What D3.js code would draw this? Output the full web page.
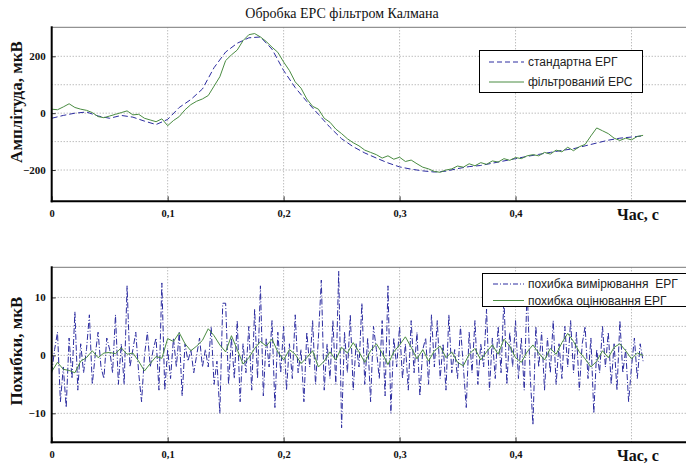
<!DOCTYPE html>
<html><head><meta charset="utf-8">
<script src="https://cdn.jsdelivr.net/npm/d3@7"></script>
<style>
html,body{margin:0;padding:0;background:#fff;}
svg{display:block;}
.leg{white-space:pre;}
</style></head>
<body>
<svg id="chart" width="686" height="464"></svg>
<script>
// ---------- DATA ----------
const title = "Обробка ЕРС фільтром Калмана";
const xTicks = [0, 0.1, 0.2, 0.3, 0.4];
const xTickLabels = ["0", "0,1", "0,2", "0,3", "0,4"];
const topYTicks = [-200, 0, 200];
const topYGrid = [-200, -100, 0, 100, 200];
const botYTicks = [-10, 0, 10];
const botYGrid = [-10, -5, 0, 5, 10];
const seriesTopNames = ["стандартна ЕРГ", "фільтрований ЕРС"];
const seriesBotNames = ["похибка вимірювання  ЕРГ", "похибка оцінювання ЕРГ"];

// standard ERG, sampled every 0.01 s
const stdStep = 0.01;
const standardERG = [-18,-8,0,4,-10,-18,-8,-14,-28,-40,-22,20,48,85,160,215,246,265,268,225,
  150,90,41,-4,-50,-90,-118,-140,-158,-175,-189,-197,-203,-207,-204,-195,-188,-184,-176,-168,
  -160,-152,-145,-138,-131,-125,-115,-105,-95,-88,-84,-80];

// filtered ERS, sampled every 0.005 s
const filtStep = 0.005;
const filteredERS = [14,12,22,33,20,14,10,2,-12,-16,-10,-4,2,8,-6,-4,-18,-24,-30,-20,
  -44,-26,-12,12,30,42,50,62,95,128,185,205,222,255,276,280,268,252,232,214,
  180,150,110,88,50,24,14,-18,-32,-56,-72,-90,-104,-115,-130,-138,-146,-158,-150,-162,
  -155,-170,-165,-178,-190,-196,-205,-208,-200,-196,-186,-190,-178,-185,-174,-180,-168,-172,-160,-166,
  -156,-160,-150,-146,-150,-138,-144,-130,-136,-120,-132,-118,-110,-80,-52,-62,-72,-88,-96,-88,
  -94,-82,-78];

// measurement error, sampled every 0.0025 s
const measStep = 0.0025;
const measError = [
  -3,1,4,-8,-2,-9,3,-4,7.5,-6,2,-3,1,7,-5,0,4,-2,-4,3,
  1,-3,7,-5,2,-5,12,-2,1,4,-3,-8,0,4,-2,1,3,-6,12.5,-6,
  1,-4,3,-2,4,-7,2,-1,1,-3,0,3,-2,1,-2,5,-5,-1,-10,9,
  9,-5,3,-4,6,-8,2,-3,5,-6,8,-4,12,-7,3,-2,6,-9,4,-3,
  5,-6,2,-4,7,-3,1,-8,4,-2,6,-5,3,13,-6,2,-4,6,-5,14.5,
  -12.5,4,-3,7,-6,2,-2,9,-5,3,-8,5,1,-4,6,-7,12,-10,3,-2,
  5,-4,2,-6,6,-3,4,-7,1,3,-5,7,-2,6,-4,2,-6,7,-3,1,
  -4,5,-2,-9,4,-3,6,-5,2,-2,8,-6,3,-4,5,-3,10,-5,4,-2,
  6,-4,3,-6,12,-3,-12,5,-2,4,-6,3,-3,6,-5,2,-4,5,-2,6,
  -3,4,-6,2,5,-4,3,-10,1,-3,5,-2,4,-5,2,-6,6,-3,1,-8,
  -2,3,-4,2,-1];

// estimation error, sampled every 0.005 s
const estStep = 0.005;
const estError = [-2.8,-1.2,-2.4,-2.6,-3.0,-1.0,-0.4,0.8,-0.4,0.4,0.5,0.3,1.3,0.2,0.4,-1.0,-2.7,-1.4,-0.2,-0.5,
  2.9,2.4,3.9,2.0,0.8,1.6,2.6,4.6,3.4,1.8,0.6,3.4,1.0,-1.5,-0.4,1.2,2.4,1.6,2.8,0.6,
  -0.8,1.0,0.2,-1.4,-0.4,0.8,-2.0,-1.0,0.6,-0.8,1.4,0.4,2.2,0.6,-1.2,0.8,2.0,0.4,-1.6,0.6,
  1.8,3.2,1.4,-0.6,1.0,-1.0,0.8,1.6,-0.4,0.6,-1.2,-1.8,0.2,1.2,-0.8,0.6,1.8,0.2,2.8,1.6,
  -0.4,-1.2,0.6,1.8,0.4,-0.8,1.2,0.2,2.2,3.8,2.4,0.6,-0.6,-2.0,-1.0,0.8,-0.4,1.4,2.0,0.8,
  -0.6,0.4,0.0];

// ---------- DRAW ----------
const svg = d3.select("#chart");
const serif = "'Liberation Serif','Times New Roman',serif";
const sans = "'Liberation Sans',Arial,sans-serif";
const blue = "#2c2ca0";
const green = "#4a8c42";

svg.append("text").attr("x", 342).attr("y", 18).attr("text-anchor", "middle")
  .attr("font-family", serif).attr("font-size", 14).attr("fill", "#111").text(title);

const x = d3.scaleLinear().domain([0, 0.547]).range([51.7, 686]);

function panel(cfg) {
  const y = d3.scaleLinear().domain(cfg.yDomain).range([cfg.bottom, cfg.top]);
  const g = svg.append("g");
  g.append("line").attr("x1", x.range()[0]).attr("x2", 686).attr("y1", cfg.top).attr("y2", cfg.top)
    .attr("stroke", "#777").attr("stroke-width", 1);
  g.selectAll(".gx").data(xTicks.filter(d => d > 0).concat([0.5])).enter().append("line")
    .attr("x1", d => x(d)).attr("x2", d => x(d)).attr("y1", cfg.top).attr("y2", cfg.bottom)
    .attr("stroke", "#888").attr("stroke-width", 0.8).attr("stroke-dasharray", "1,2");
  g.selectAll(".gy").data(cfg.yGrid).enter().append("line")
    .attr("x1", x.range()[0]).attr("x2", 686).attr("y1", d => y(d)).attr("y2", d => y(d))
    .attr("stroke", "#888").attr("stroke-width", 0.8).attr("stroke-dasharray", "1,2");
  const xa = d3.axisBottom(x).tickValues(xTicks).tickSize(-5).tickFormat((d, i) => xTickLabels[i]);
  const gx = g.append("g").attr("transform", `translate(0,${cfg.bottom})`).call(xa);
  gx.select(".domain").remove();
  gx.selectAll(".tick line").attr("stroke", "#333");
  gx.selectAll("text").attr("font-family", serif).attr("font-weight", "bold").attr("font-size", 10.5)
    .attr("fill", "#111").attr("dy", "1.25em");
  const ya = d3.axisLeft(y).tickValues(cfg.yTicks).tickSize(-4).tickFormat(d3.format("d"));
  const gy = g.append("g").attr("transform", `translate(${x.range()[0]},0)`).call(ya);
  gy.select(".domain").remove();
  gy.selectAll(".tick line").attr("stroke", "#333");
  gy.selectAll("text").attr("font-family", serif).attr("font-weight", "bold").attr("font-size", 11)
    .attr("fill", "#111").attr("x", -6);
  cfg.series.forEach(s => {
    const line = d3.line().x((d, i) => x(i * s.step)).y(d => y(d));
    g.append("path").datum(s.data).attr("d", line).attr("fill", "none")
      .attr("stroke", s.color).attr("stroke-width", 1).attr("stroke-dasharray", s.dash || null);
  });
  g.append("line").attr("x1", x.range()[0]).attr("x2", x.range()[0]).attr("y1", cfg.top - 1).attr("y2", cfg.bottom + 1)
    .attr("stroke", "#000").attr("stroke-width", 2);
  g.append("line").attr("x1", x.range()[0] - 1).attr("x2", 686).attr("y1", cfg.bottom).attr("y2", cfg.bottom)
    .attr("stroke", "#000").attr("stroke-width", 2);
  g.append("text").attr("transform", `translate(${cfg.ylabX},${cfg.ylabY}) rotate(-90)`)
    .attr("text-anchor", "middle").attr("font-family", serif).attr("font-weight", "bold")
    .attr("font-size", 17).attr("fill", "#111").text(cfg.ylabel);
  g.append("text").attr("x", 617).attr("y", cfg.bottom + 19).attr("font-family", serif)
    .attr("font-weight", "bold").attr("font-size", 16).attr("fill", "#111").text("Час, с");
  const L = cfg.legend;
  const lg = g.append("g");
  lg.append("rect").attr("x", L.x).attr("y", L.y).attr("width", L.w).attr("height", L.h)
    .attr("fill", "#fff").attr("stroke", "#000").attr("stroke-width", 1);
  cfg.series.forEach((s, i) => {
    const ly = L.y + L.row0 + i * L.rowH;
    lg.append("line").attr("x1", L.lx1).attr("x2", L.lx2).attr("y1", ly).attr("y2", ly)
      .attr("stroke", s.color).attr("stroke-width", 1).attr("stroke-dasharray", s.legDash || null);
    lg.append("text").attr("class", "leg").attr("x", L.tx).attr("y", ly + 4).attr("font-family", sans)
      .attr("font-size", 12).attr("fill", "#222").text(s.name);
  });
}

panel({
  top: 27.3, bottom: 201.3, yDomain: [-310, 302], yTicks: topYTicks, yGrid: topYGrid,
  ylabel: "Амплітуда, мкВ", ylabX: 22, ylabY: 102,
  series: [
    {name: seriesTopNames[0], data: standardERG, step: stdStep, color: blue, dash: "6,3", legDash: "5,3"},
    {name: seriesTopNames[1], data: filteredERS, step: filtStep, color: green}
  ],
  legend: {x: 479.5, y: 50.5, w: 163, h: 42, row0: 11.5, rowH: 20, lx1: 489, lx2: 524, tx: 528}
});

panel({
  top: 267.3, bottom: 442.3, yDomain: [-15, 15.2], yTicks: botYTicks, yGrid: botYGrid,
  ylabel: "Похибки, мкВ", ylabX: 22, ylabY: 351,
  series: [
    {name: seriesBotNames[0], data: measError, step: measStep, color: blue, dash: "6,2,1,2", legDash: "5,2,1,2"},
    {name: seriesBotNames[1], data: estError, step: estStep, color: green}
  ],
  legend: {x: 482.5, y: 273.5, w: 205, h: 33, row0: 10.5, rowH: 16.5, lx1: 493, lx2: 524, tx: 528}
});
</script>
</body></html>
